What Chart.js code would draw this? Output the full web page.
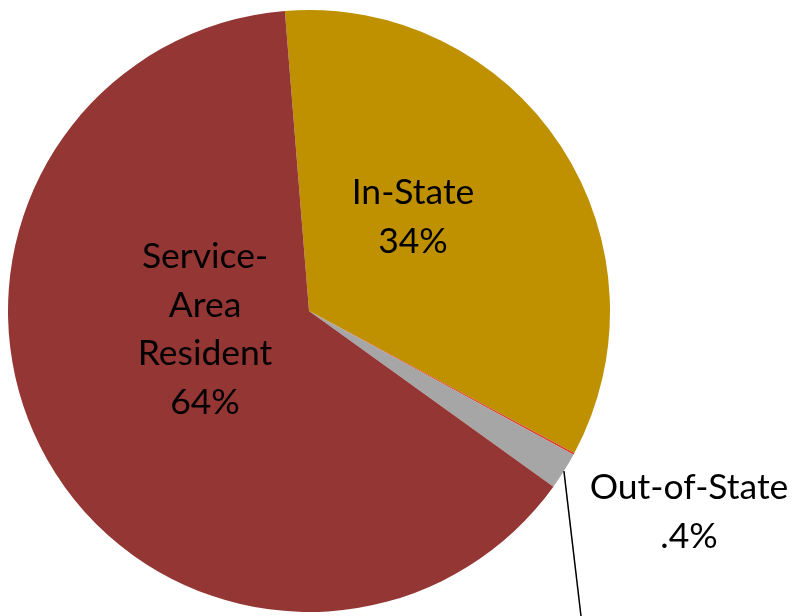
<!DOCTYPE html>
<html>
<head>
<meta charset="utf-8">
<script src="https://cdn.jsdelivr.net/npm/chart.js@4"></script>
<style>
  html, body { margin: 0; padding: 0; background: #fff; }
  #wrap { width: 794px; height: 616px; }
</style>
</head>
<body>
<div id="wrap"><canvas id="pie" width="794" height="616"></canvas></div>
<script>
const categories = ['In-State', 'Other', 'Out-of-State', 'Service-Area Resident'];
const values = [34.1, 0.1, 2.0, 63.8];
const colors = ['#BF9000', '#D9402E', '#A6A6A6', '#943634'];

// label text lines per slice, with position (x, y of first line)
const labelLines = {
  'In-State': { lines: ['In-State', '34%'], x: 413, y: 193 },
  'Service-Area Resident': { lines: ['Service-', 'Area', 'Resident', '64%'], x: 205, y: 257 },
  'Out-of-State': { lines: ['Out-of-State', '.4%'], x: 689, y: 488 },
};

const labelPlugin = {
  id: 'sliceLabels',
  afterDraw(chart) {
    const ctx = chart.ctx;
    const meta = chart.getDatasetMeta(0);
    ctx.save();
    // leader line for Out-of-State
    const idx = categories.indexOf('Out-of-State');
    const arc = meta.data[idx];
    const mid = (arc.startAngle + arc.endAngle) / 2;
    ctx.strokeStyle = '#000';
    ctx.lineWidth = 1.5;
    ctx.beginPath();
    ctx.moveTo(arc.x + Math.cos(mid) * arc.outerRadius, arc.y + Math.sin(mid) * arc.outerRadius);
    ctx.lineTo(581, 616);
    ctx.stroke();

    ctx.fillStyle = '#000';
    ctx.font = '35.5px Lato, "Open Sans", sans-serif';
    ctx.textAlign = 'center';
    ctx.textBaseline = 'middle';
    Object.keys(labelLines).forEach(k => {
      const l = labelLines[k];
      l.lines.forEach((t, i) => ctx.fillText(t, l.x, l.y + i * 48.5));
    });
    ctx.restore();
  }
};

new Chart(document.getElementById('pie'), {
  type: 'pie',
  data: {
    labels: categories,
    datasets: [{
      data: values,
      backgroundColor: colors,
      borderWidth: 0,
    }],
  },
  options: {
    responsive: false,
    animation: false,
    rotation: -4.6,
    layout: { padding: { left: 8, right: 184, top: 10, bottom: 4 } },
    plugins: {
      legend: { display: false },
      tooltip: { enabled: false },
    },
  },
  plugins: [labelPlugin],
});
</script>
</body>
</html>
